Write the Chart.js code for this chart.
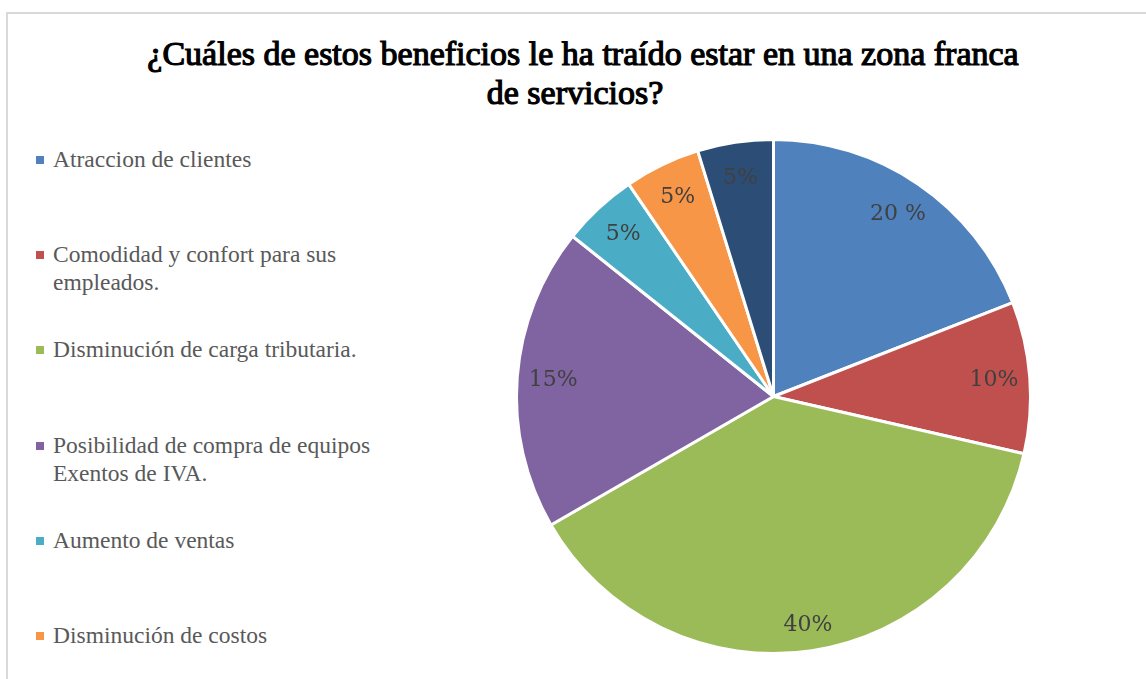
<!DOCTYPE html>
<html>
<head>
<meta charset="utf-8">
<script src="https://cdn.jsdelivr.net/npm/chart.js@4.4.1/dist/chart.umd.min.js"></script>
<style>
    html, body { margin: 0; padding: 0; background: #fff; overflow: hidden; }
    #wrap { position: relative; width: 1146px; height: 679px; }
    #frame { position: absolute; left: 6px; top: 12px; width: 1160px; height: 700px; border: 2px solid #d9d9d9; box-sizing: border-box; }
    #title { position: absolute; left: 80px; width: 1006px; top: 34px; text-align: center; font-family: "Times New Roman", "Liberation Serif", serif; font-weight: normal; -webkit-text-stroke: 1.2px #000; font-size: 34px; line-height: 39px; color: #000; }
    #title div:nth-child(2) { margin-left: -16px; }
    #legend { position: absolute; left: 36px; top: 145px; font-family: "Liberation Serif", "Times New Roman", serif; font-size: 23.5px; line-height: 28px; color: #595959; }
    .item { position: relative; height: 95.2px; }
    .box { position: absolute; left: 0; top: 11px; width: 8px; height: 8px; }
    .text { position: absolute; left: 17px; top: 0; width: 330px; }
    #chart { position: absolute; left: 0; top: 0; }
</style>
</head>
<body>
<div id="wrap">
    <div id="frame"></div>
    <div id="title">
        <div>¿Cuáles de estos beneficios le ha traído estar en una zona franca</div>
        <div>de servicios?</div>
    </div>
    <div id="legend"></div>
    <canvas id="chart" width="1146" height="679"></canvas>
</div>
<script>
const categories = [
    'Atraccion de clientes',
    'Comodidad y confort para sus empleados.',
    'Disminución de carga tributaria.',
    'Posibilidad de compra de equipos Exentos de IVA.',
    'Aumento de ventas',
    'Disminución de costos',
    'Otros',
];
const values = [20, 10, 40, 20, 5, 5, 5];
const valueLabels = ['20 %', '10%', '40%', '15%', '5%', '5%', '5%'];
const colors = ['#4f81bd', '#c0504d', '#9bbb59', '#8064a2', '#4bacc6', '#f79646', '#2c4d75'];

// legend on the left, one slot per category
const legendNode = document.getElementById('legend');
categories.forEach((name, i) => {
    const item = document.createElement('div');
    item.className = 'item';
    item.innerHTML = '<span class="box" style="background:' + colors[i] + '"></span><span class="text"></span>';
    item.querySelector('.text').textContent = name;
    legendNode.appendChild(item);
});

const sliceLabels = {
    id: 'sliceLabels',
    afterDatasetsDraw(chart) {
        const ctx = chart.ctx;
        const meta = chart.getDatasetMeta(0);
        ctx.save();
        ctx.font = '22px "DejaVu Serif", serif';
        ctx.fillStyle = '#404040';
        ctx.textAlign = 'center';
        ctx.textBaseline = 'middle';
        meta.data.forEach((arc, i) => {
            const p = arc.getProps(['x', 'y', 'startAngle', 'endAngle', 'outerRadius'], true);
            const mid = (p.startAngle + p.endAngle) / 2;
            const r = p.outerRadius * (i === 2 ? 0.9 : 0.86);
            ctx.fillText(valueLabels[i], p.x + Math.cos(mid) * r, p.y + Math.sin(mid) * r);
        });
        ctx.restore();
    },
};

new Chart(document.getElementById('chart'), {
    type: 'pie',
    data: {
        labels: categories,
        datasets: [{
            data: values,
            backgroundColor: colors,
            borderColor: '#ffffff',
            borderWidth: 3,
        }],
    },
    options: {
        responsive: false,
        animation: false,
        layout: {
            padding: { left: 515, top: 138, right: 114, bottom: 24 },
        },
        plugins: {
            legend: { display: false },
            tooltip: { enabled: false },
            title: { display: false },
        },
    },
    plugins: [sliceLabels],
});
</script>
</body>
</html>
